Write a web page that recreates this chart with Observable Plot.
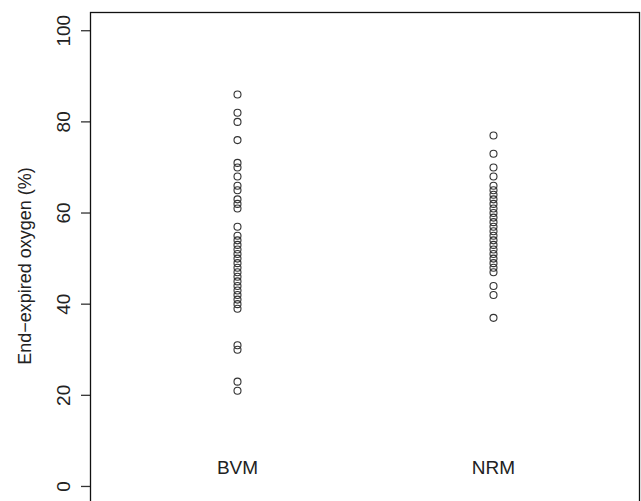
<!DOCTYPE html>
<html>
<head>
<meta charset="utf-8">
<script src="https://cdn.jsdelivr.net/npm/d3@7"></script>
<script src="https://cdn.jsdelivr.net/npm/@observablehq/plot@0.6"></script>
<style>
  html, body { margin: 0; padding: 0; background: #fff; overflow: hidden; }
  #chart svg { display: block; }
</style>
</head>
<body>
<div id="chart"></div>
<script>
const groups = ["BVM", "NRM"];
const bvm = [86, 82, 80, 76, 71, 70, 68, 66, 65, 63, 62, 61, 57, 55, 54, 53, 52, 51, 50, 49, 48, 47, 46, 45, 44, 43, 42, 41, 40, 39, 31, 30, 23, 21];
const nrm = [77, 73, 70, 68, 66, 65, 64, 63, 62, 61, 60, 59, 58, 57, 56, 55, 54, 53, 52, 51, 50, 49, 48, 47, 44, 42, 37];
const yTicks = [0, 20, 40, 60, 80, 100];
const yLabel = "End\u2212expired oxygen (%)";

const data = [
  ...bvm.map(v => ({group: "BVM", value: v})),
  ...nrm.map(v => ({group: "NRM", value: v}))
];

const font = "'Liberation Sans', Arial, Helvetica, sans-serif";

const chart = Plot.plot({
  width: 641,
  height: 501,
  marginTop: 12,
  marginBottom: 0,
  marginLeft: 90,
  marginRight: 2,
  style: {fontFamily: font, fontSize: "18px", color: "#222", background: "#fff", overflow: "hidden"},
  x: {type: "point", domain: groups, padding: 0.572},
  y: {domain: [-3.3, 104]},
  marks: [
    Plot.axisY({
      ticks: yTicks,
      tickSize: 9,
      tickFormat: () => "",
      stroke: "#333",
      strokeWidth: 1.3,
      label: null
    }),
    Plot.axisY({
      ticks: yTicks,
      tickSize: 0,
      tickPadding: 27,
      rotate: -90,
      textAnchor: "middle",
      fontSize: 19,
      label: null
    }),
    Plot.text([yLabel], {
      frameAnchor: "left",
      textAnchor: "middle",
      rotate: -90,
      dx: -65,
      dy: 9,
      fontSize: 18,
      fill: "#222"
    }),
    Plot.frame({stroke: "#111", strokeWidth: 1.3, insetBottom: -4}),
    Plot.axisX({
      anchor: "bottom",
      tickSize: 0,
      tickPadding: 0,
      dy: -41,
      fontSize: 19,
      label: null
    }),
    Plot.dot(data, {x: "group", y: "value", r: 3.5, stroke: "#333", strokeWidth: 1.1, fill: "none"})
  ]
});

document.getElementById("chart").appendChild(chart);
</script>
</body>
</html>
